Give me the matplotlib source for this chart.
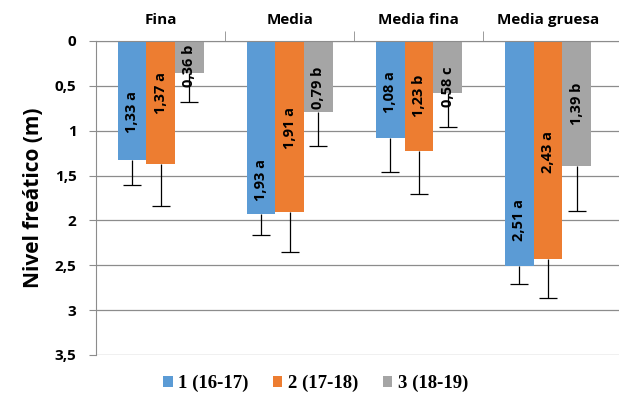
import numpy as np
import matplotlib.pyplot as plt
from matplotlib.patches import Patch

# Profundidad media del nivel freático por textura y campaña
texturas = ['Fina', 'Media', 'Media fina', 'Media gruesa']
campanas = ['1 (16-17)', '2 (17-18)', '3 (18-19)']
nivel = [
    [1.33, 1.93, 1.08, 2.51],
    [1.37, 1.91, 1.23, 2.43],
    [0.36, 0.79, 0.58, 1.39],
]
desvio = [
    [0.27, 0.23, 0.38, 0.20],
    [0.47, 0.44, 0.47, 0.44],
    [0.32, 0.38, 0.38, 0.51],
]
letras = [
    ['a', 'a', 'a', 'a'],
    ['a', 'a', 'b', 'a'],
    ['b', 'b', 'c', 'b'],
]
# posición vertical de cada etiqueta dentro de la barra
pos_etiqueta = [
    [0.79, 1.55, 0.57, 2.00],
    [0.58, 0.97, 0.61, 1.24],
    [0.28, 0.52, 0.51, 0.70],
]

colores = ['#5B9BD5', '#ED7D31', '#A5A5A5']
gris = '#8C8C8C'

fig = plt.figure(figsize=(6.19, 3.98), dpi=100)
ax = fig.add_axes([96 / 619, 1 - 355 / 398, 1 - 96 / 619, (355 - 41) / 398])

x = np.arange(len(texturas))
ancho = 0.222
for i in range(len(campanas)):
    xs = x + (i - 1) * ancho
    fondo = np.array(nivel[i]) + np.array(desvio[i])
    ax.bar(xs, nivel[i], ancho, color=colores[i], zorder=2)
    # barra de error solo hacia abajo, con remate en el extremo
    ax.vlines(xs, nivel[i], fondo, color='black', linewidth=0.9, zorder=3)
    ax.plot(xs, fondo, '_', color='black', markersize=13, markeredgewidth=0.9,
            zorder=3)
    for j in range(len(texturas)):
        txt = f"{nivel[i][j]:.2f}".replace('.', ',') + ' ' + letras[i][j]
        ax.text(xs[j], pos_etiqueta[i][j], txt, rotation=90, ha='center',
                va='center', fontsize=10.5, fontweight='bold',
                family='Open Sans', color='black', zorder=4)

ax.set_ylim(3.5, 0)
ax.set_xlim(-0.5, 3.55)
ax.set_yticks(np.arange(0, 3.51, 0.5))
ax.set_yticklabels([f"{v:g}".replace('.', ',') for v in np.arange(0, 3.51, 0.5)],
                   fontsize=11, fontweight='bold', family='Open Sans')
ax.yaxis.grid(True, color=gris, linewidth=0.9, zorder=0)
ax.tick_params(axis='y', length=5, color=gris, pad=9)

ax.xaxis.tick_top()
ax.set_xticks(x)
ax.set_xticklabels(texturas, fontsize=11, fontweight='bold', family='Open Sans')
ax.set_xticks([0.5, 1.5, 2.5], minor=True)
ax.tick_params(axis='x', which='major', length=0, pad=10)
ax.tick_params(axis='x', which='minor', length=7, color=gris)

for lado in ['right', 'bottom']:
    ax.spines[lado].set_visible(False)
ax.spines['left'].set_color(gris)
ax.spines['top'].set_color(gris)

ax.set_ylabel('Nivel freático (m)', fontsize=15, fontweight='bold',
              family='Open Sans', labelpad=8)

handles = [Patch(facecolor=c, label=l) for c, l in zip(colores, campanas)]
fig.legend(handles=handles, loc='center', bbox_to_anchor=(0.51, 0.037), ncol=3,
           frameon=False, handlelength=0.5, handleheight=0.5, handletextpad=0.3,
           columnspacing=1.3, prop={'family': 'Liberation Serif', 'weight': 'bold',
                                    'size': 13.5})

fig.savefig('out.png', dpi=100)
